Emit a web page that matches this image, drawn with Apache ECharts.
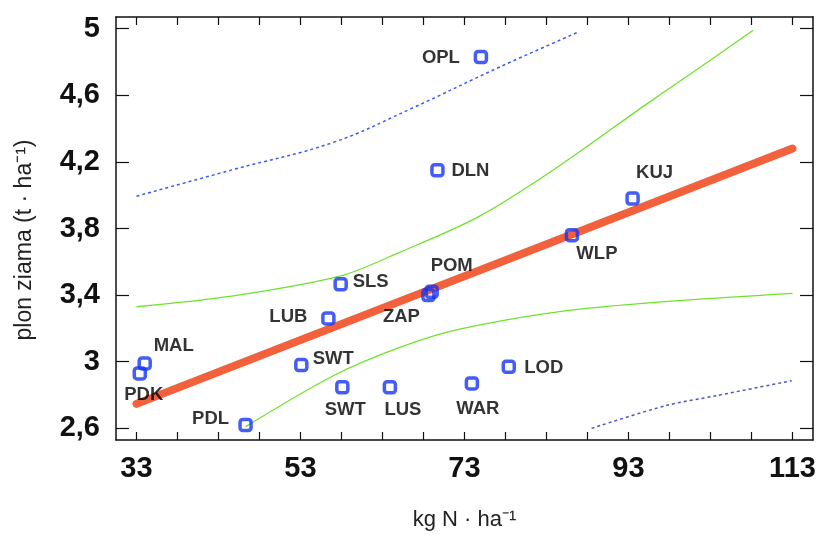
<!DOCTYPE html>
<html>
<head>
<meta charset="utf-8">
<script src="https://cdn.jsdelivr.net/npm/echarts@6/dist/echarts.min.js"></script>
<style>
  html, body { margin: 0; padding: 0; background: #fff; }
  #chart { width: 821px; height: 536px; }
</style>
</head>
<body>
<div id="chart"></div>
<script>
// województwa: dawka N (kg/ha) i plon ziarna (t/ha)
const names = ['OPL', 'DLN', 'KUJ', 'WLP', 'POM', 'ZAP', 'SLS', 'LUB', 'SWT', 'SWT', 'LUS', 'WAR', 'LOD', 'MAL', 'PDK', 'PDL']
const nDose = [75.0, 69.7, 93.5, 86.1, 69.0, 68.6, 57.9, 56.4, 53.1, 58.1, 63.9, 73.9, 78.4, 34.0, 33.4, 46.3]
const grainYield = [4.83, 4.15, 3.98, 3.76, 3.42, 3.40, 3.465, 3.26, 2.98, 2.847, 2.847, 2.87, 2.97, 2.99, 2.93, 2.62]

// linia regresji
const regression = [[33, 2.747], [113, 4.28]]
// przedział ufności (zielony)
const confUpper = [[33, 3.33], [44.8, 3.395], [57.9, 3.515], [65.1, 3.657], [74.5, 3.865], [83.6, 4.144], [95.2, 4.547], [100.9, 4.74], [108.2, 4.99]]
const confLower = [[46.3, 2.61], [57.0, 2.916], [65.1, 3.086], [72.4, 3.196], [87.1, 3.316], [113, 3.41]]
// przedział predykcji (niebieski, przerywany)
const predUpper = [[33, 3.994], [44.8, 4.154], [57.0, 4.317], [66.5, 4.52], [77.3, 4.77], [86.9, 4.98]]
const predLower = [[88.5, 2.60], [97.6, 2.737], [103.7, 2.796], [112.9, 2.886]]

const xLabels = [33, 53, 73, 93, 113]
const xTicks = [33, 38, 43, 48, 53, 58, 63, 68, 73, 78, 83, 88, 93, 98, 103, 108, 113]
const yLabels = [2.6, 3, 3.4, 3.8, 4.2, 4.6, 5]

// przesunięcia etykiet punktów (px), w kolejności names
const labelShift = [[-40, 1], [33, 1], [22, -26], [25, 19], [20, -26], [-27, 22], [30, -2], [-40, -2], [32, -6], [3, 23], [13, 23], [6, 26], [35, 1], [29, -17], [4, 22], [-35, -6]]

const chart = echarts.init(document.getElementById('chart'))

const points = names.map((n, i) => {
  return {
    name: n,
    value: [nDose[i], grainYield[i]],
    label: { offset: labelShift[i] }
  }
})

const comma = v => String(v).replace('.', ',')
const frame = { show: true, onZero: false, lineStyle: { color: '#111', width: 1.5 } }

const option = {
  animation: false,
  grid: { left: 116, top: 17, right: 8, bottom: 95 },
  xAxis: [
    {
      type: 'value',
      min: 30.5,
      max: 115.5,
      position: 'bottom',
      axisLine: frame,
      splitLine: { show: false },
      axisTick: { show: true, inside: true, length: 8, customValues: xTicks, lineStyle: { color: '#111', width: 1.2 } },
      axisLabel: { customValues: xLabels, margin: 14, color: '#111', fontSize: 29, fontWeight: 'bold', fontFamily: 'Liberation Sans' },
      name: 'kg N · ha⁻¹',
      nameLocation: 'middle',
      nameGap: 69,
      nameTextStyle: { color: '#222', fontSize: 22, fontFamily: 'Liberation Sans' }
    },
    {
      type: 'value',
      min: 30.5,
      max: 115.5,
      position: 'top',
      axisLine: frame,
      splitLine: { show: false },
      axisTick: { show: true, inside: true, length: 8, customValues: xTicks, lineStyle: { color: '#111', width: 1.2 } },
      axisLabel: { show: false }
    }
  ],
  yAxis: [
    {
      type: 'value',
      min: 2.53,
      max: 5.07,
      position: 'left',
      axisLine: frame,
      splitLine: { show: false },
      axisTick: { show: true, inside: true, length: 13, customValues: yLabels, lineStyle: { color: '#111', width: 1.2 } },
      axisLabel: { customValues: yLabels, formatter: comma, margin: 16, color: '#111', fontSize: 29, fontWeight: 'bold', fontFamily: 'Liberation Sans' }
    },
    {
      type: 'value',
      min: 2.53,
      max: 5.07,
      position: 'right',
      axisLine: frame,
      splitLine: { show: false },
      axisTick: { show: true, inside: true, length: 13, customValues: yLabels, lineStyle: { color: '#111', width: 1.2 } },
      axisLabel: { show: false }
    }
  ],
  graphic: [
    {
      type: 'text',
      x: 25,
      y: 240,
      rotation: Math.PI / 2,
      style: {
        text: 'plon ziama (t · ha⁻¹)',
        fontSize: 23,
        fontFamily: 'Liberation Sans',
        fill: '#222',
        align: 'center',
        verticalAlign: 'middle'
      }
    }
  ],
  series: [
    {
      type: 'line',
      data: predUpper,
      smooth: 0.4,
      showSymbol: false,
      lineStyle: { color: '#3b5cf2', width: 1.5, type: [3, 3] }
    },
    {
      type: 'line',
      data: predLower,
      smooth: 0.3,
      showSymbol: false,
      lineStyle: { color: '#4a55c8', width: 1.5, type: [3, 3] }
    },
    {
      type: 'line',
      data: confUpper,
      smooth: 0.3,
      showSymbol: false,
      lineStyle: { color: '#6fe32c', width: 1.3 }
    },
    {
      type: 'line',
      data: confLower,
      smooth: 0.3,
      showSymbol: false,
      lineStyle: { color: '#6fe32c', width: 1.3 }
    },
    {
      type: 'line',
      data: regression,
      showSymbol: false,
      lineStyle: { color: '#f2603c', width: 8, cap: 'round' }
    },
    {
      type: 'scatter',
      data: points,
      symbol: 'roundRect',
      symbolSize: 11,
      itemStyle: { color: 'rgba(255,255,255,0)', borderColor: '#1535f5', borderWidth: 3.5 },
      label: {
        show: true,
        position: 'inside',
        formatter: '{b}',
        color: '#000',
        fontSize: 18.5,
        fontWeight: 'bold',
        fontFamily: 'Liberation Sans'
      },
      z: 5
    }
  ]
}

chart.setOption(option)
</script>
</body>
</html>
